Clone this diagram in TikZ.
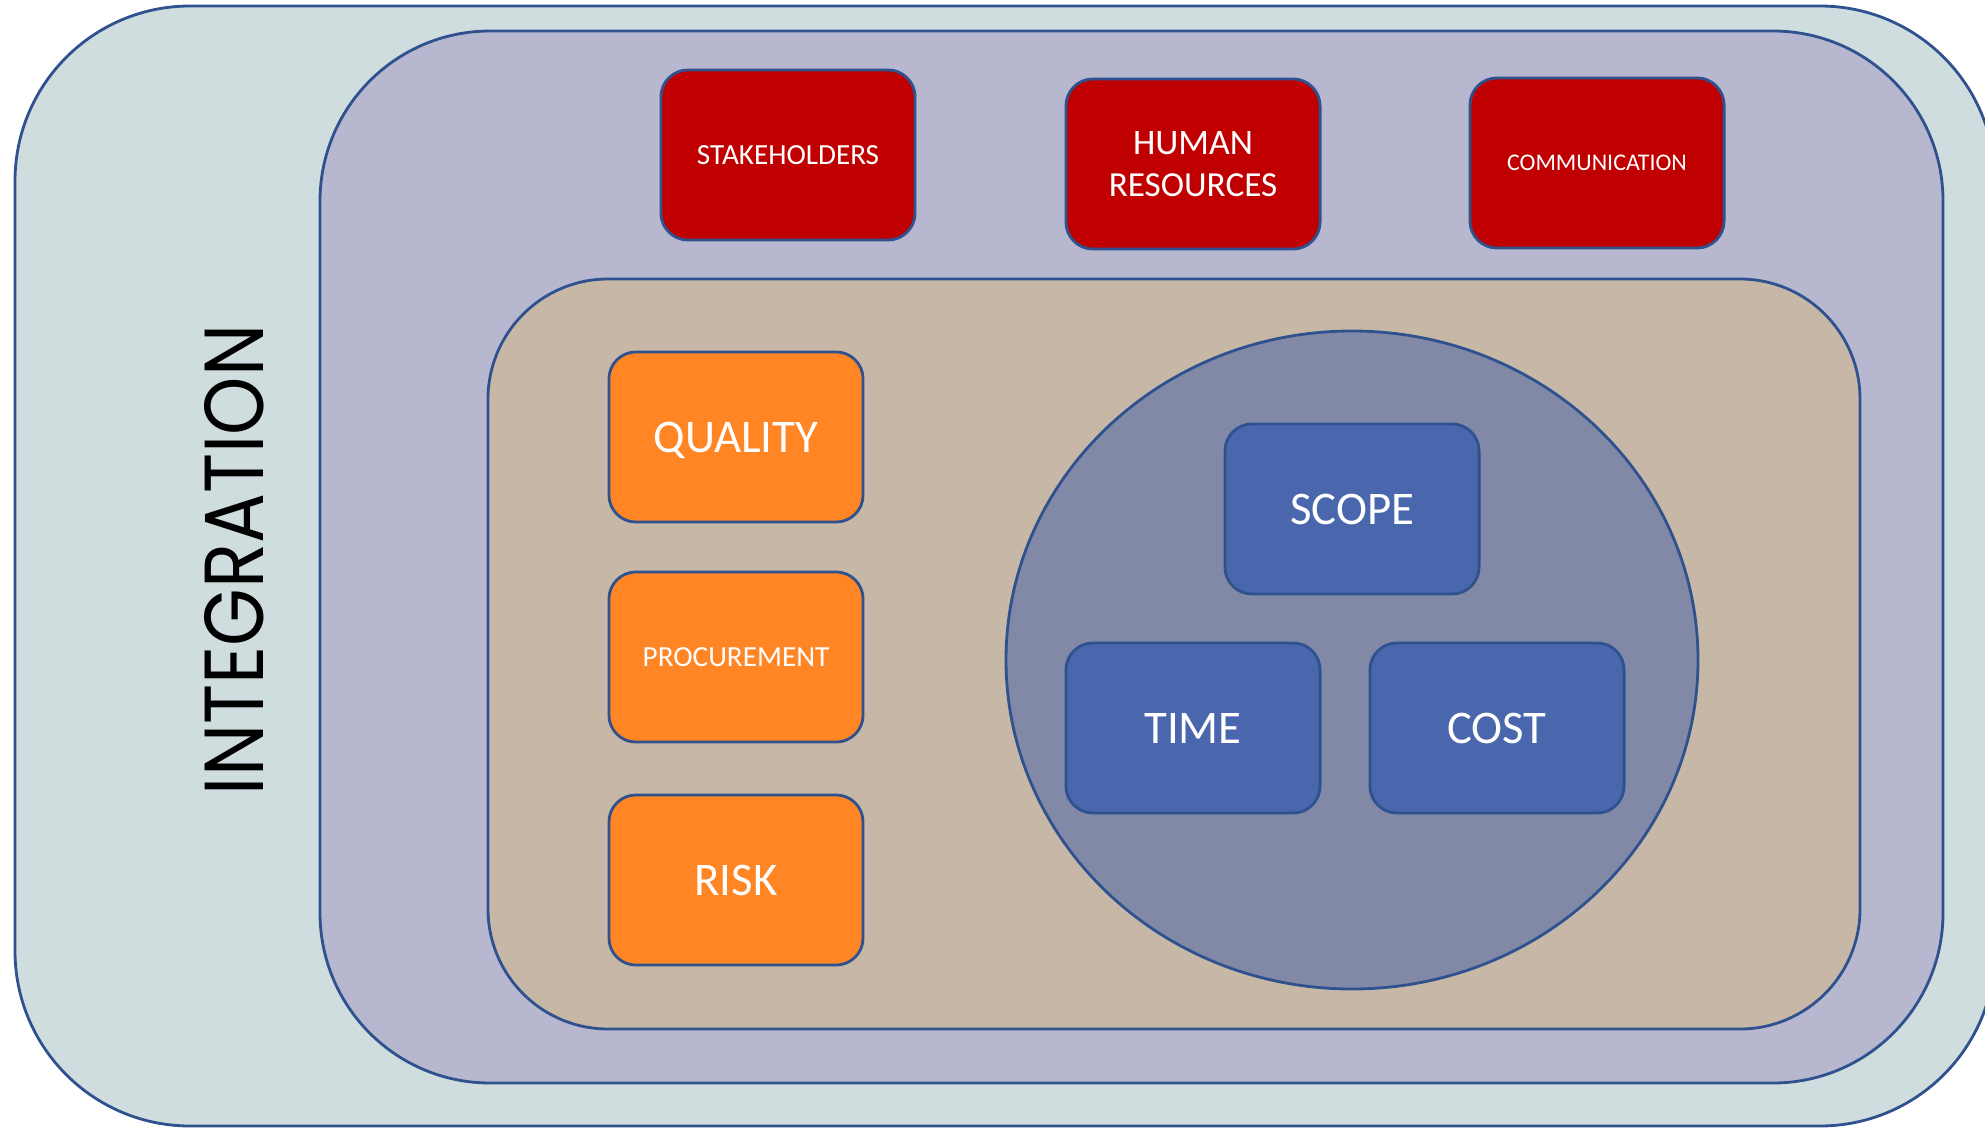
\documentclass[tikz,border=0pt]{standalone}
\usepackage{fontspec}
\usepackage{graphicx}
\usepackage{xcolor}
\usepackage{tikz}
\setmainfont{Carlito}
\newfontfamily\titlefont{Poppins}

\definecolor{edgeblue}{HTML}{2F528F}
\definecolor{outerbg}{HTML}{CFDDDF}
\definecolor{middlebg}{HTML}{B8B7D0}
\definecolor{innerbg}{HTML}{C7B7A7}
\definecolor{corebg}{HTML}{8189A7}
\definecolor{cardred}{HTML}{C00000}
\definecolor{cardorange}{HTML}{FF8525}
\definecolor{cardblue}{HTML}{4A67AE}

\begin{document}
\begin{tikzpicture}[x=0.01cm,y=-0.01cm,
	layer/.style={draw=edgeblue,line width=0.8pt},
	card/.style={draw=edgeblue,line width=0.8pt,rounded corners=0.27cm,minimum width=2.54cm,minimum height=1.7cm,inner sep=0pt,text depth=0pt,align=center,text=white},
	redcard/.style={card,fill=cardred},
	orangecard/.style={card,fill=cardorange},
	bluecard/.style={card,fill=cardblue}]
	\useasboundingbox (0,0) rectangle (1985,1127);
	
	\draw[layer,fill=outerbg,rounded corners=1.75cm] (15,6) rectangle (1995,1126);
	\draw[layer,fill=middlebg,rounded corners=1.7cm] (320,31) rectangle (1943,1083);
	\draw[layer,fill=innerbg,rounded corners=1.2cm] (488,279) rectangle (1860,1029);
	\draw[layer,fill=corebg] (1352,660) ellipse [x radius=346, y radius=329];
	
	\node[rotate=90] (integration) at (234,560) {\resizebox{4.7cm}{0.59cm}{\titlefont INTEGRATION}};
	
	\node[redcard] (stakeholders) at (788,155) {\fontsize{8.3}{10}\selectfont STAKEHOLDERS};
	\node[redcard] (hr) at (1193,164) {\fontsize{10.2}{13.4}\selectfont HUMAN\\RESOURCES};
	\node[redcard] (communication) at (1597,163) {\fontsize{6.8}{8}\selectfont COMMUNICATION};
	
	\node[orangecard] (quality) at (736,437) {\fontsize{13.3}{16}\selectfont QUALITY};
	\node[orangecard] (procurement) at (736,657) {\fontsize{8.3}{10}\selectfont PROCUREMENT};
	\node[orangecard] (risk) at (736,880) {\fontsize{13.3}{16}\selectfont RISK};
	
	\node[bluecard] (scope) at (1352,509) {\fontsize{13.3}{16}\selectfont SCOPE};
	\node[bluecard] (time) at (1193,728) {\fontsize{13.3}{16}\selectfont TIME};
	\node[bluecard] (cost) at (1497,728) {\fontsize{13.3}{16}\selectfont COST};
\end{tikzpicture}
\end{document}
